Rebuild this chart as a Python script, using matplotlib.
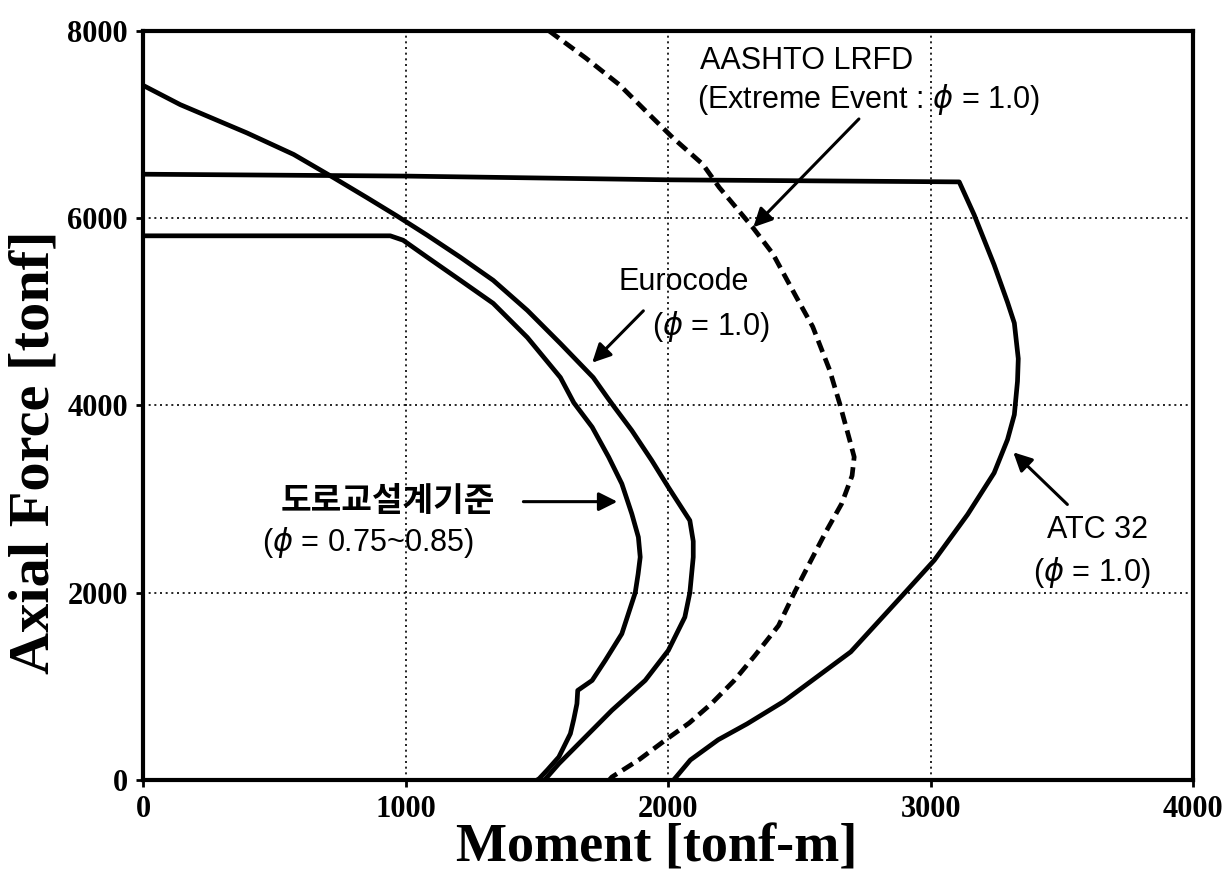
import matplotlib
matplotlib.use("Agg")
import matplotlib.pyplot as plt

plt.rcParams['mathtext.fontset'] = 'dejavusans'

# ---- data (Moment [tonf-m], Axial Force [tonf]) ----
kor_m = [0, 941, 990, 1082, 1208, 1333, 1463, 1589, 1640, 1710, 1773, 1823, 1861, 1886, 1893,
         1885, 1874, 1823, 1760, 1710, 1655, 1652, 1640, 1627, 1583, 1540, 1508, 1500]
kor_p = [5812, 5812, 5765, 5583, 5337, 5091, 4727, 4299, 4030, 3769, 3448, 3164, 2843, 2594, 2381,
         2200, 2000, 1562, 1278, 1064, 957, 815, 650, 495, 246, 110, 14, 0]

euro_m = [0, 141, 395, 573, 725, 852, 966, 1082, 1208, 1333, 1463, 1589, 1714, 1768, 1790,
          1861, 1937, 2000, 2082, 2095, 2095, 2082, 2063, 2000, 1912, 1785, 1684, 1583, 1533, 1527]
euro_p = [7418, 7213, 6911, 6681, 6433, 6220, 6025, 5818, 5583, 5337, 5016, 4662, 4299, 4085, 4000,
          3733, 3413, 3128, 2772, 2550, 2381, 2000, 1740, 1384, 1064, 744, 459, 174, 14, 0]

aashto_m = [1546, 1686, 1813, 1940, 2017, 2131, 2194, 2321, 2398, 2487, 2550, 2614, 2652, 2690,
            2708, 2700, 2660, 2600, 2535, 2480, 2420, 2330, 2250, 2164, 2080, 1987, 1890, 1785, 1775]
aashto_p = [8000, 7710, 7427, 7073, 6860, 6577, 6329, 5904, 5621, 5161, 4842, 4382, 4028, 3639,
            3450, 3250, 2950, 2650, 2300, 2000, 1650, 1330, 1060, 815, 610, 423, 220, 32, 0]

atc_m = [0, 1000, 2000, 3108, 3165, 3241, 3292, 3318, 3333, 3330, 3318, 3292, 3241, 3140, 3013,
         2898, 2695, 2440, 2300, 2190, 2084, 2020]
atc_p = [6470, 6450, 6410, 6388, 6036, 5502, 5102, 4880, 4500, 4258, 3902, 3636, 3280, 2836, 2347,
         1991, 1369, 840, 600, 430, 214, 0]

x_ticks = [0, 1000, 2000, 3000, 4000]
y_ticks = [0, 2000, 4000, 6000, 8000]

fig = plt.figure(figsize=(12.24, 8.84), dpi=100)
ax = fig.add_axes([0.117, 0.1176, 0.858, 0.8474])

lw = 3.4
ax.plot(kor_m, kor_p, color='black', lw=lw, solid_joinstyle='round', zorder=3)
ax.plot(euro_m, euro_p, color='black', lw=lw, solid_joinstyle='round', zorder=3)
ax.plot(aashto_m, aashto_p, color='black', lw=lw, dashes=(2.6, 1.4), zorder=3)
ax.plot(atc_m, atc_p, color='black', lw=lw, solid_joinstyle='round', zorder=3)

ax.set_xlim(0, 4000)
ax.set_ylim(0, 8000)
ax.set_xticks(x_ticks)
ax.set_yticks(y_ticks)
ax.set_xticklabels([str(v) for v in x_ticks])
ax.set_yticklabels([str(v) for v in y_ticks])

ax.grid(True, color='black', linestyle=(0, (1.2, 2.2)), linewidth=1.2)
ax.set_axisbelow(True)

for s in ax.spines.values():
    s.set_linewidth(3.0)
    s.set_color('black')

ax.tick_params(direction='out', length=5, width=2, pad=6)
for lab in ax.get_xticklabels() + ax.get_yticklabels():
    lab.set_fontfamily('Liberation Serif')
    lab.set_fontweight('bold')
    lab.set_fontsize(22)

ax.set_xlabel('Moment [tonf-m]', fontfamily='Liberation Serif', fontweight='bold', fontsize=39)
ax.xaxis.set_label_coords(0.4886, -0.058)
ax.set_ylabel('Axial Force [tonf]', fontfamily='Liberation Serif', fontweight='bold', fontsize=42)
ax.yaxis.set_label_coords(-0.079, 0.438)

tf = dict(fontfamily='Liberation Sans', fontsize=22, color='black', zorder=5)
ap = dict(arrowstyle='-|>', color='black', lw=2.2, mutation_scale=28, shrinkA=0, shrinkB=0)

# AASHTO
ax.text(2122, 7679, 'AASHTO LRFD', ha='left', va='center', **tf)
ax.text(2110, 7273, r'(Extreme Event : $\phi$ = 1.0)', ha='left', va='center', **tf)
ax.annotate('', xy=(2324, 5904), xytext=(2726, 7060), arrowprops=ap)

# Eurocode
ax.text(1810, 5315, 'Eurocode', ha='left', va='center', **tf)
ax.text(1939, 4845, r'($\phi$ = 1.0)', ha='left', va='center', **tf)
ax.annotate('', xy=(1710, 4457), xytext=(1905, 5011), arrowprops=ap)

# Korean code
ax.text(522, 2973, '도로교설계기준', ha='left', va='center',
        fontfamily='Noto Sans CJK KR', fontsize=24, fontweight='bold', color='black', zorder=5)
ax.text(453, 2535, r'($\phi$ = 0.75~0.85)', ha='left', va='center', **tf)
ax.annotate('', xy=(1806, 2973), xytext=(1448, 2973), arrowprops=ap)

# ATC 32
ax.text(3444, 2674, 'ATC 32', ha='left', va='center', **tf)
ax.text(3390, 2214, r'($\phi$ = 1.0)', ha='left', va='center', **tf)
ax.annotate('', xy=(3314, 3500), xytext=(3520, 2943), arrowprops=ap)

fig.savefig('out.png', dpi=100, facecolor='white')
